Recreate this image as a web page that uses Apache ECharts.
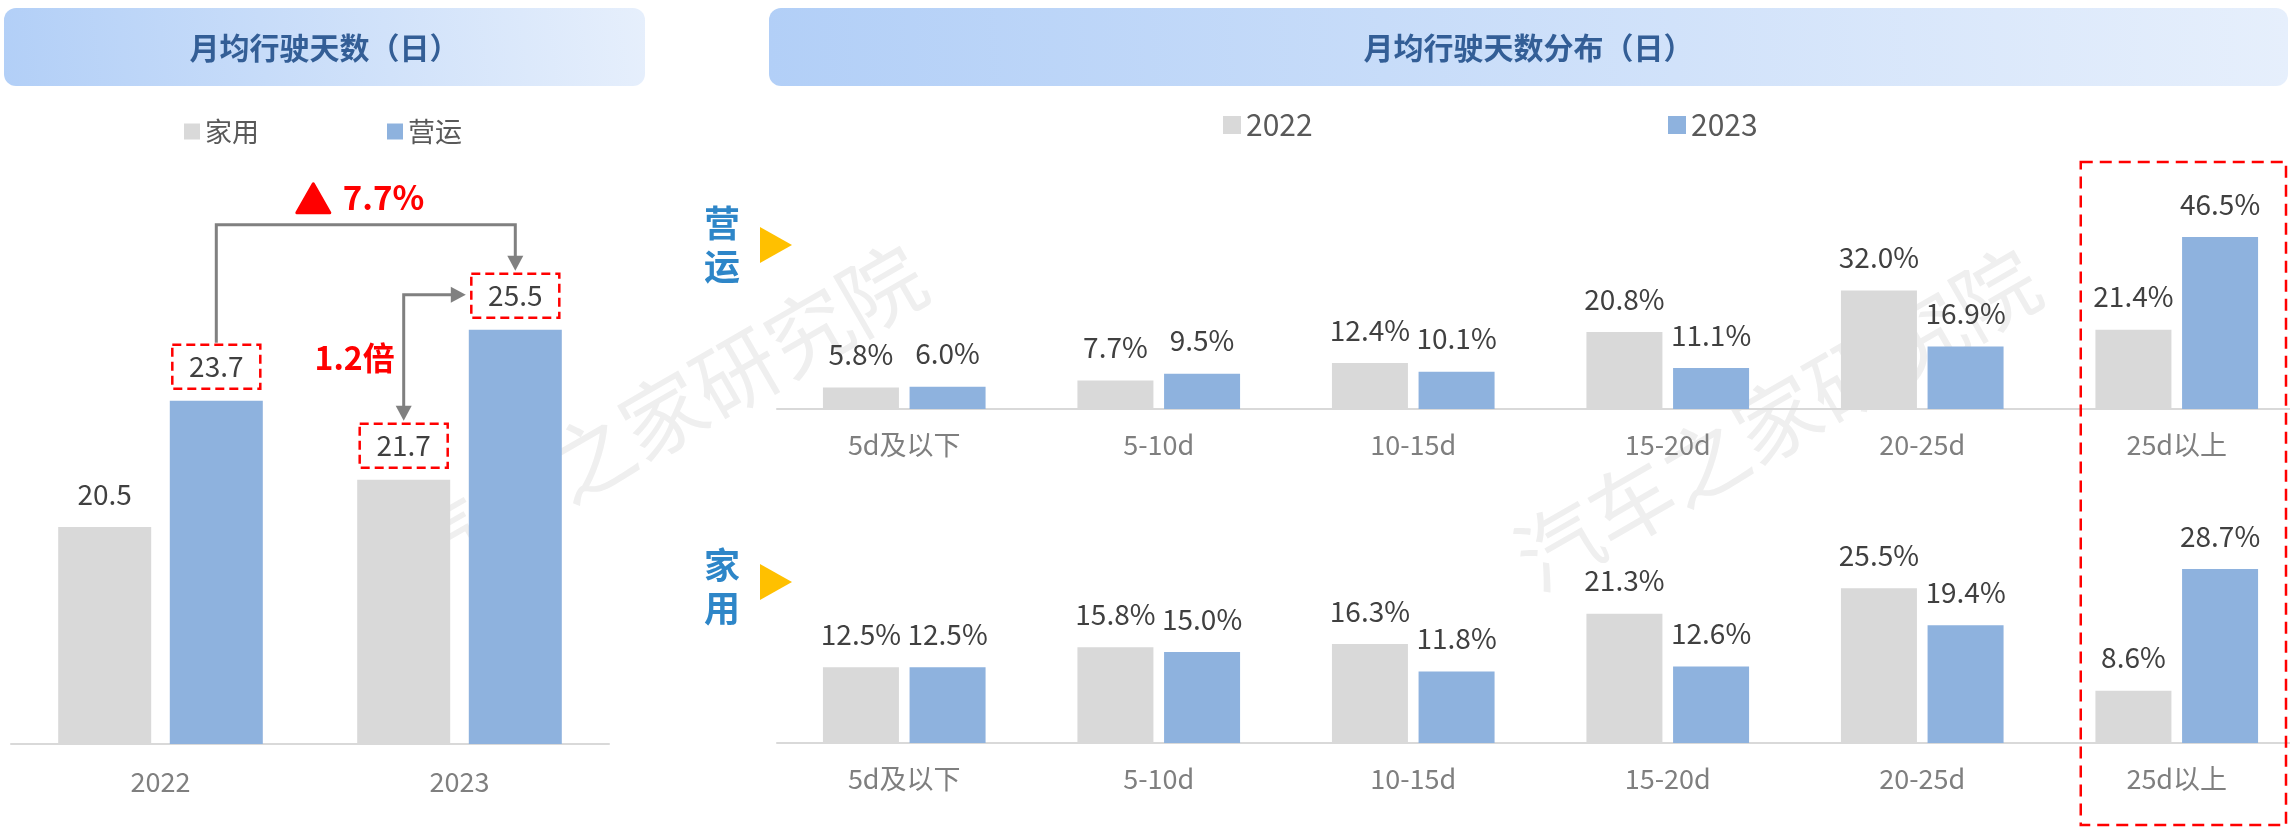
<!DOCTYPE html>
<html>
<head>
<meta charset="utf-8">
<script src="https://cdn.jsdelivr.net/npm/echarts@6/dist/echarts.min.js"></script>
<style>
  html, body { margin: 0; padding: 0; background: #fff; }
  #main { width: 2290px; height: 827px; }
</style>
</head>
<body>
<div id="main"></div>
<script>
const FONT = '"Noto Sans CJK SC", "Microsoft YaHei", sans-serif'
const GREY = '#d9d9d9'
const BLUE = '#8eb2de'
const RED = '#ff0000'

// 左图：月均行驶天数
const years = ['2022', '2023']
const homeDays = [20.5, 21.7]
const opDays = [23.7, 25.5]

// 右图：月均行驶天数分布
const ranges = ['5d及以下', '5-10d', '10-15d', '15-20d', '20-25d', '25d以上']
const op2022 = [5.8, 7.7, 12.4, 20.8, 32.0, 21.4]
const op2023 = [6.0, 9.5, 10.1, 11.1, 16.9, 46.5]
const home2022 = [12.5, 15.8, 16.3, 21.3, 25.5, 8.6]
const home2023 = [12.5, 15.0, 11.8, 12.6, 19.4, 28.7]

const LEFT_BAR = 93
const LEFT_GAP = 0.2
const BOX_H = 46
const BOX_DIST = 12

// 红色虚线框标签
const boxLabel = {
  borderColor: RED,
  borderWidth: 2.5,
  borderType: [9, 5],
  width: 88,
  lineHeight: 28,
  padding: [8, 0],
  align: 'center',
  distance: BOX_DIST
}

const valueLabel = (fmt) => ({
  show: true,
  position: 'top',
  distance: 19,
  color: '#404040',
  fontSize: 28,
  fontFamily: FONT,
  formatter: fmt
})

const catAxis = (gridIndex, data, margin) => ({
  type: 'category',
  gridIndex,
  data,
  axisTick: { show: false },
  axisLine: { lineStyle: { color: GREY, width: 2 } },
  axisLabel: { color: '#7f7f7f', fontSize: 27, fontFamily: FONT, margin }
})

const legendAt = (name, left, top, size, fontSize, color) => ({
  data: [name],
  left,
  top,
  padding: 0,
  icon: 'rect',
  itemWidth: size,
  itemHeight: size,
  selectedMode: false,
  textStyle: { fontSize, color, fontFamily: FONT }
})

const pct = (p) => p.value.toFixed(1) + '%'
const days = (p) => p.value.toFixed(1)

const option = {
  animation: false,
  backgroundColor: '#fff',
  legend: [
    legendAt('家用', 184, 118, 16, 27, '#595959'),
    legendAt('营运', 387, 118, 16, 27, '#595959'),
    legendAt('2022', 1223, 110, 18, 30, '#595959'),
    legendAt('2023', 1668, 110, 18, 30, '#595959')
  ],
  grid: [
    { left: 11, width: 598, bottom: 83, height: 434, outerBoundsMode: 'none' },
    { left: 777, width: 1527, bottom: 418, height: 185, outerBoundsMode: 'none' },
    { left: 777, width: 1527, bottom: 84, height: 182, outerBoundsMode: 'none' }
  ],
  xAxis: [
    catAxis(0, years, 24),
    catAxis(1, ranges, 22),
    catAxis(2, ranges, 22)
  ],
  yAxis: [
    { type: 'value', gridIndex: 0, min: 15, max: 26, show: false },
    { type: 'value', gridIndex: 1, min: 0, max: 50, show: false },
    { type: 'value', gridIndex: 2, min: 0, max: 30, show: false }
  ],
  series: [
    {
      name: '家用', type: 'bar', xAxisIndex: 0, yAxisIndex: 0,
      barWidth: LEFT_BAR, barGap: '20%',
      itemStyle: { color: GREY },
      label: valueLabel(days),
      data: homeDays.map((v, i) => i === 1 ? { value: v, label: boxLabel } : v)
    },
    {
      name: '营运', type: 'bar', xAxisIndex: 0, yAxisIndex: 0,
      barWidth: LEFT_BAR, barGap: '20%',
      itemStyle: { color: BLUE },
      label: valueLabel(days),
      data: opDays.map((v) => ({ value: v, label: boxLabel }))
    },
    {
      name: '2022', type: 'bar', xAxisIndex: 1, yAxisIndex: 1,
      barWidth: 76, barGap: '14%',
      itemStyle: { color: GREY },
      label: valueLabel(pct),
      data: op2022
    },
    {
      name: '2023', type: 'bar', xAxisIndex: 1, yAxisIndex: 1,
      barWidth: 76, barGap: '14%',
      itemStyle: { color: BLUE },
      label: valueLabel(pct),
      data: op2023
    },
    {
      name: '2022', type: 'bar', xAxisIndex: 2, yAxisIndex: 2,
      barWidth: 76, barGap: '14%',
      itemStyle: { color: GREY },
      label: valueLabel(pct),
      data: home2022
    },
    {
      name: '2023', type: 'bar', xAxisIndex: 2, yAxisIndex: 2,
      barWidth: 76, barGap: '14%',
      itemStyle: { color: BLUE },
      label: valueLabel(pct),
      data: home2023
    }
  ]
}

const chart = echarts.init(document.getElementById('main'))
chart.setOption(option)

// 标题框
const titleBox = (x, w, text) => ({
  type: 'group',
  x, y: 8,
  children: [
    {
      type: 'rect',
      shape: { width: w, height: 78, r: 12 },
      style: {
        fill: new echarts.graphic.LinearGradient(0, 1, 1, 0, [
          { offset: 0, color: '#b2cff7' },
          { offset: 1, color: '#e6effc' }
        ])
      }
    },
    {
      type: 'text',
      x: w / 2, y: 40,
      style: {
        text, fill: '#335e96', fontSize: 30, fontWeight: 'bold', fontFamily: FONT,
        align: 'center', verticalAlign: 'middle'
      }
    }
  ]
})

// 水印
const watermark = (x, y) => ({
  type: 'text', x, y, rotation: Math.PI / 6, z: -10, silent: true,
  style: {
    text: '汽车之家研究院', fill: '#efefef', fontSize: 84, fontFamily: FONT,
    align: 'center', verticalAlign: 'middle'
  }
})

const sideLabel = (text, y) => ({
  type: 'text', x: 722, y,
  style: {
    text, fill: '#2e86c8', fontSize: 36, fontWeight: 'bold', fontFamily: FONT,
    lineHeight: 43, align: 'center', verticalAlign: 'middle'
  }
})

const pointer = (y) => ({
  type: 'polygon',
  shape: { points: [[760, y - 18], [792, y], [760, y + 18]] },
  style: { fill: '#ffc000' }
})

function drawNotes() {
  const px = (grid, cat, val) => chart.convertToPixel({ gridIndex: grid }, [cat, val])
  const off = (LEFT_BAR + LEFT_BAR * LEFT_GAP) / 2
  const boxTop = (grid, cat, val) => px(grid, cat, val)[1] - BOX_DIST - BOX_H

  const c22 = px(0, 0, 20)[0]
  const c23 = px(0, 1, 20)[0]
  const top22 = boxTop(0, 0, opDays[0])
  const top23 = boxTop(0, 1, opDays[1])
  const topHome23 = boxTop(0, 1, homeDays[1])
  const line = { stroke: '#808080', lineWidth: 3, fill: null }
  const arrowFill = { fill: '#808080' }

  // 同比箭头 23.7 -> 25.5
  const x1 = c22 + off
  const x2 = c23 + off
  const yLine = top23 - 47
  const midX = (x1 + x2) / 2

  // 1.2倍 箭头 21.7 <-> 25.5
  const xv = c23 - off
  const yh = top23 + BOX_H / 2
  const xTip = x2 - LEFT_BAR / 2 - 2

  const cLast = px(1, ranges.length - 1, 0)[0]

  const notes = [
    { type: 'polyline', z: 50, shape: { points: [[x1, top22], [x1, yLine], [x2, yLine], [x2, top23 - 14]] }, style: line },
    { type: 'polygon', z: 50, shape: { points: [[x2 - 8, top23 - 16], [x2 + 8, top23 - 16], [x2, top23 - 1]] }, style: arrowFill },
    { type: 'polygon', z: 50, shape: { points: [[midX - 69, yLine - 12], [midX - 36, yLine - 12], [midX - 52.5, yLine - 41]] }, style: { fill: RED, stroke: RED, lineWidth: 3, lineJoin: 'round' } },
    { type: 'text', z: 50, x: midX - 23, y: yLine - 27, style: { text: '7.7%', fill: RED, fontSize: 33, fontWeight: 'bold', fontFamily: FONT, align: 'left', verticalAlign: 'middle' } },

    { type: 'polyline', z: 50, shape: { points: [[xTip - 14, yh], [xv, yh], [xv, topHome23 - 14]] }, style: line },
    { type: 'polygon', z: 50, shape: { points: [[xTip - 16, yh - 8], [xTip - 16, yh + 8], [xTip - 1, yh]] }, style: arrowFill },
    { type: 'polygon', z: 50, shape: { points: [[xv - 8, topHome23 - 16], [xv + 8, topHome23 - 16], [xv, topHome23 - 1]] }, style: arrowFill },
    { type: 'text', z: 50, x: xv - 9, y: (yh + topHome23) / 2, style: { text: '1.2倍', fill: RED, fontSize: 32, fontWeight: 'bold', fontFamily: FONT, align: 'right', verticalAlign: 'middle' } },

    // 25d以上 高亮框
    { type: 'rect', z: 50, shape: { x: cLast - 96, y: 162, width: 2286 - (cLast - 96), height: 663 }, style: { fill: null, stroke: RED, lineWidth: 2.5, lineDash: [12, 7] } }
  ]

  chart.setOption({
    graphic: [
      watermark(663, 415),
      watermark(1777, 419),
      titleBox(4, 641, '月均行驶天数（日）'),
      titleBox(769, 1519, '月均行驶天数分布（日）'),
      sideLabel('营\n运', 245),
      sideLabel('家\n用', 587),
      pointer(245),
      pointer(582),
      ...notes
    ]
  })
}

drawNotes()
</script>
</body>
</html>
